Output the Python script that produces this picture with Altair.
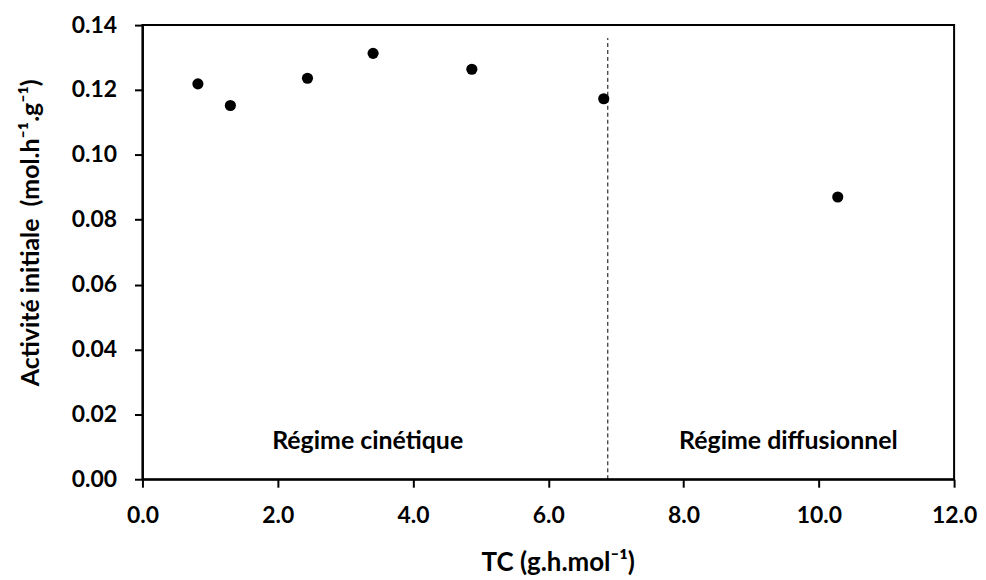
import altair as alt
import pandas as pd

tc = [0.82, 1.30, 2.44, 3.41, 4.87, 6.82, 10.28]
activite = [0.1219, 0.1152, 0.1236, 0.1313, 0.1264, 0.1173, 0.0870]

regime_labels = ["Régime cinétique", "Régime diffusionnel"]
regime_x = [3.33, 9.55]
regime_y = [0.0117, 0.0117]

limit_x = [6.88]
limit_y0 = [0.0]
limit_y1 = [0.136]

FONT = "Lato"

pts = pd.DataFrame({"tc": tc, "act": activite})
txt = pd.DataFrame({"label": regime_labels, "x": regime_x, "y": regime_y})
lim = pd.DataFrame({"x": limit_x, "y0": limit_y0, "y1": limit_y1})

xscale = alt.Scale(domain=[0, 12], nice=False, zero=True)
yscale = alt.Scale(domain=[0, 0.14], nice=False, zero=True)

xaxis = alt.Axis(
    title="TC (g.h.mol⁻¹)",
    values=[0, 2, 4, 6, 8, 10, 12],
    format=".1f",
    grid=False,
    domainColor="black", domainWidth=2,
    tickColor="black", tickWidth=2, tickSize=8,
    labelFont=FONT, labelFontSize=23, labelFontWeight="bold", labelColor="black",
    labelPadding=17, labelFlush=False,
    titleFont=FONT, titleFontSize=26, titleFontWeight="bold", titleColor="black",
    titleX=417, titleY=84, titleBaseline="middle", titleAlign="center",
)
yaxis = alt.Axis(
    title="Activité initiale\u00a0 (mol.h⁻¹.g⁻¹)",
    values=[0, 0.02, 0.04, 0.06, 0.08, 0.10, 0.12, 0.14],
    format=".2f",
    grid=False,
    domainColor="black", domainWidth=2,
    tickColor="black", tickWidth=2, tickSize=8,
    labelFont=FONT, labelFontSize=23, labelFontWeight="bold", labelColor="black",
    labelPadding=18, labelFlush=False,
    titleFont=FONT, titleFontSize=25, titleFontWeight="bold", titleColor="black",
    titleX=-112, titleY=208, titleAngle=-90, titleBaseline="middle", titleAlign="center",
)

points = alt.Chart(pts).mark_circle(size=125, color="black", opacity=1).encode(
    x=alt.X("tc:Q", scale=xscale, axis=xaxis),
    y=alt.Y("act:Q", scale=yscale, axis=yaxis),
)

rule = alt.Chart(lim).mark_rule(color="black", strokeWidth=1, strokeDash=[4, 3]).encode(
    x="x:Q", y="y0:Q", y2="y1:Q"
)

labels = alt.Chart(txt).mark_text(
    font=FONT, fontSize=25, fontWeight="bold", color="black", baseline="middle", align="center"
).encode(x="x:Q", y="y:Q", text="label:N")

chart = alt.layer(rule, points, labels).properties(
    width=815, height=456,
    autosize=alt.AutoSizeParams(type="none"),
    padding={"left": 135, "top": 16, "right": 24, "bottom": 96},
    background="white",
).configure_view(stroke="black", strokeWidth=2)

chart.save("out.html", embed_options={"renderer": "svg", "actions": False})
